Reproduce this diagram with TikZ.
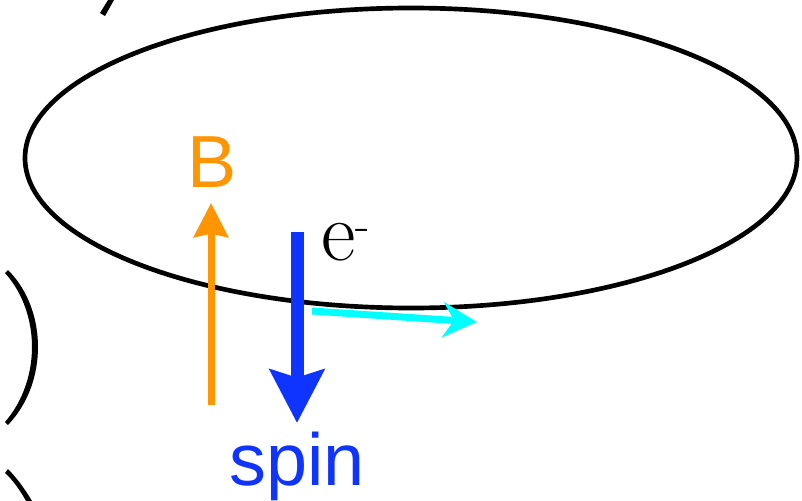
\documentclass[tikz,border=0pt]{standalone}
\usepackage{fontspec}
\newfontfamily\labelfont{Liberation Sans}
\usetikzlibrary{arrows.meta}
\definecolor{fieldorange}{RGB}{255,149,0}
\definecolor{spinblue}{RGB}{16,52,255}
\definecolor{movecyan}{RGB}{0,255,255}
\begin{document}
\begin{tikzpicture}[x=0.03cm,y=-0.03cm]
\tikzset{lbl/.style={inner sep=0pt,anchor=base,font=\labelfont\fontsize{63}{70}\selectfont}}
\useasboundingbox (0,0) rectangle (802,501);

% orbit
\draw[line width=0.14cm] (411,158) ellipse [x radius=386, y radius=150];

% pieces of the surrounding brackets
\fill (105,16) -- (100,13) -- (108,0) -- (114,0) -- cycle;
\fill (8,270) .. controls (29,291) and (38,320) .. (38,347) .. controls (38,374) and (29,403) .. (8,425)
 -- (5,422) .. controls (24,400) and (32,372) .. (32,347) .. controls (32,322) and (24,294) .. (5,273) -- cycle;
\fill (8,469) .. controls (16,477) and (25,489) .. (32,501) -- (26,501) .. controls (20,490) and (12,479) .. (5,473) -- cycle;

\coordinate (B0) at (211,405);
\coordinate (B1) at (211,203);
\coordinate (S0) at (297,232);
\coordinate (S1) at (297,423);
\coordinate (V0) at (312,311);
\coordinate (V1) at (477,322);

\draw[fieldorange,line width=0.21cm,-{Stealth[length=1.02cm,width=1.02cm,inset=0.1cm]}] (B0) -- (B1);
\draw[spinblue,line width=0.39cm,-{Stealth[length=1.6cm,width=1.62cm,inset=0.24cm]}] (S0) -- (S1);
\draw[movecyan,line width=0.21cm,-{Stealth[length=1.02cm,width=1.05cm,inset=0.33cm]}] (V0) -- (V1);

\node[lbl,fieldorange] (Blbl) at (212,187) {B};
\node[lbl,spinblue] (spinlbl) at (297,485) {spin};
\node[inner sep=0pt,anchor=base west,font=\rmfamily\fontsize{72}{80}\selectfont] (elbl) at (321,260)
 {e\raisebox{17pt}{\fontsize{40}{40}\selectfont -}};

\end{tikzpicture}
\end{document}
